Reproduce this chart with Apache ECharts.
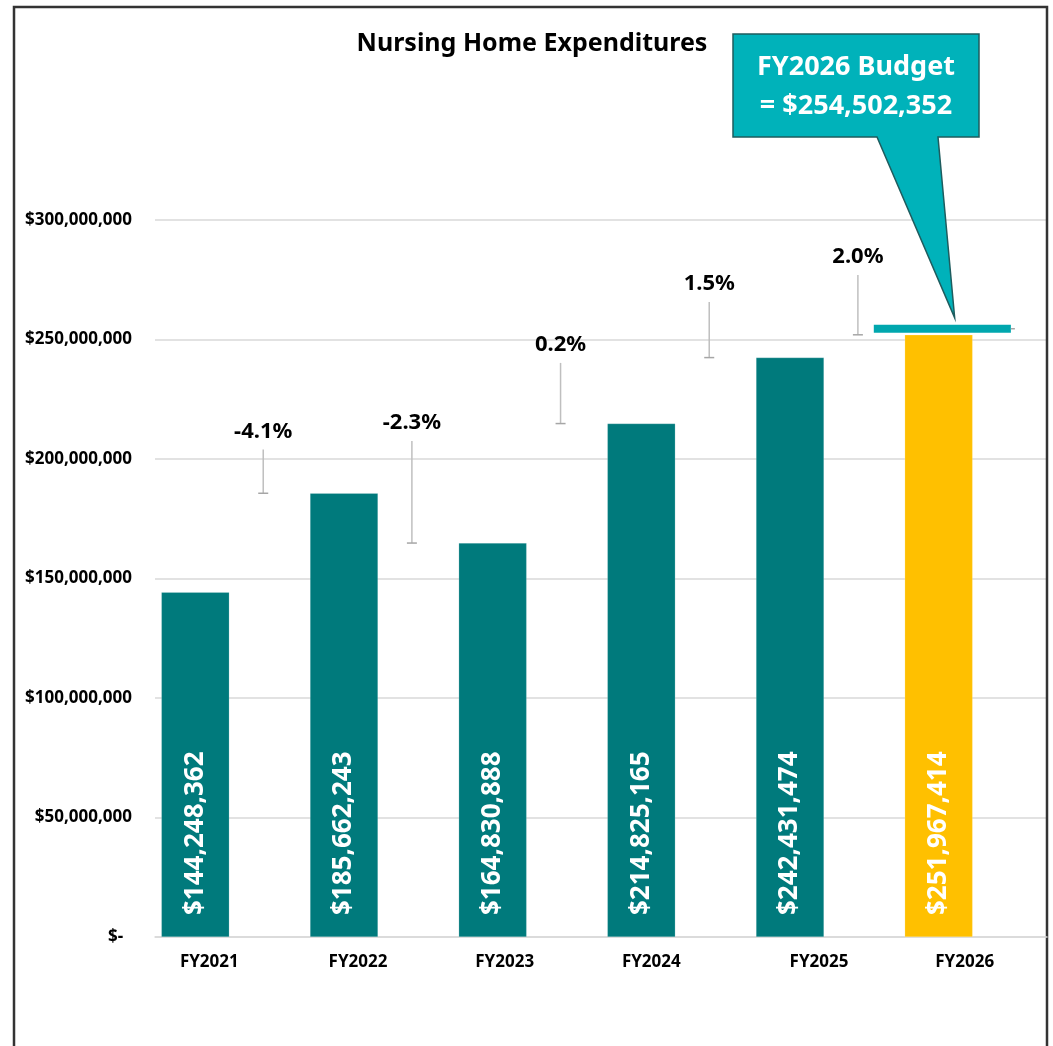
<!DOCTYPE html>
<html>
<head>
<meta charset="utf-8">
<title>Nursing Home Expenditures</title>
<script src="https://cdn.jsdelivr.net/npm/echarts@6/dist/echarts.min.js"></script>
<style>
  html, body { margin: 0; padding: 0; background: #fff; }
  #chart { width: 1053px; height: 1046px; }
</style>
</head>
<body>
<div id="chart"></div>
<script>
var years = ['FY2021', 'FY2022', 'FY2023', 'FY2024', 'FY2025', 'FY2026'];
var spending = [144248362, 185662243, 164830888, 214825165, 242431474, 251967414];

// growth notes sit between two years: whisker runs from the next year's bar up to changeHigh
var changeLabels = ['-4.1%', '-2.3%', '0.2%', '1.5%', '2.0%'];
var changeLow = [185662243, 164830888, 214825165, 242431474, 251967414];
var changeHigh = [204000000, 207500000, 240200000, 265700000, 277000000];

var budget = 254502352;
var budgetLines = ['FY2026 Budget', '= $254,502,352'];

// x label nudges (px) so the year names sit where the original puts them
var labelShift = [-20, -20, -22, -24, -5, -8];

var FONT = '"Noto Sans", "Open Sans", sans-serif';
var TEAL = '#007A7C';
var GOLD = '#FFC000';

function money(v) {
    return '$' + v.toLocaleString('en-US');
}

var chart = echarts.init(document.getElementById('chart'));

var barData = spending.map(function (v, i) {
    if (i === spending.length - 1) {
        return { value: v, itemStyle: { color: GOLD } };
    }
    return v;
});

var changeData = changeLabels.map(function (t, i) {
    return [i, changeLow[i], changeHigh[i]];
});

var rich = {};
labelShift.forEach(function (s, i) {
    rich['s' + i] = {
        fontFamily: FONT, fontWeight: 'bold', fontSize: 17, color: '#000',
        padding: s < 0 ? [0, -2 * s, 0, 0] : [0, 0, 0, 2 * s]
    };
});

chart.setOption({
    animation: false,
    textStyle: { fontFamily: FONT },
    grid: { left: 155, right: 6, top: 220, bottom: 109, containLabel: false },
    xAxis: {
        type: 'category',
        data: years,
        axisLine: { lineStyle: { color: '#D9D9D9', width: 1.5 } },
        axisTick: { show: false },
        axisLabel: {
            margin: 17,
            formatter: function (v, i) { return '{s' + i + '|' + v + '}'; },
            rich: rich
        }
    },
    yAxis: {
        type: 'value',
        min: 0,
        max: 300000000,
        interval: 50000000,
        axisLine: { show: false },
        axisTick: { show: false },
        splitLine: { lineStyle: { color: '#D9D9D9', width: 1.5 } },
        axisLabel: {
            margin: 23,
            color: '#000',
            fontWeight: 'bold',
            fontSize: 17,
            fontFamily: FONT,
            formatter: function (v) { return v === 0 ? '$-  ' : money(v); }
        }
    },
    series: [
        {
            name: 'Expenditures',
            type: 'bar',
            barWidth: 68,
            barGap: '0%',
            data: barData,
            itemStyle: { color: TEAL, borderColor: 'rgba(255,255,255,0.35)', borderWidth: 0.5 },
            label: {
                show: true,
                position: 'insideBottom',
                rotate: 90,
                align: 'left',
                verticalAlign: 'middle',
                distance: 22,
                color: '#fff',
                fontSize: 26,
                fontWeight: 'bold',
                fontFamily: FONT,
                formatter: function (p) { return money(p.value); }
            },
            z: 3
        },
        {
            // placeholder that keeps the bars left of centre, as in the source workbook
            name: 'spacer',
            type: 'bar',
            barWidth: 68,
            barGap: '0%',
            silent: true,
            data: changeLow.concat(['-']),
            itemStyle: { color: 'rgba(0,0,0,0)' }
        },
        {
            name: 'Change',
            type: 'custom',
            clip: false,
            encode: { x: 0, y: [1, 2] },
            data: changeData,
            renderItem: function (params, api) {
                var band = api.size([1, 0])[0];
                var lo = api.coord([api.value(0), api.value(1)]);
                var hi = api.coord([api.value(0), api.value(2)]);
                var x = lo[0] + band * 0.228;
                return {
                    type: 'group',
                    children: [
                        { type: 'line', shape: { x1: x, y1: lo[1], x2: x, y2: hi[1] },
                          style: { stroke: '#BFBFBF', lineWidth: 1.5 } },
                        { type: 'line', shape: { x1: x - 5, y1: lo[1], x2: x + 5, y2: lo[1] },
                          style: { stroke: '#A6A6A6', lineWidth: 1.5 } },
                        { type: 'text', x: x, y: hi[1] - 7,
                          style: { text: changeLabels[params.dataIndex], fill: '#000',
                                   font: 'bold 22px ' + FONT, align: 'center', verticalAlign: 'bottom' } }
                    ]
                };
            },
            z: 4
        },
        {
            name: 'Budget',
            type: 'custom',
            clip: false,
            encode: { x: 0, y: 1 },
            data: [[years.length - 1, budget]],
            renderItem: function (params, api) {
                var band = api.size([1, 0])[0];
                var c = api.coord([api.value(0), api.value(1)]);
                var x0 = c[0] - band * 0.665;
                var x1 = c[0] + band * 0.257;
                return {
                    type: 'group',
                    children: [
                        { type: 'rect', shape: { x: x0, y: c[1] - 4, width: x1 - x0, height: 8 },
                          style: { fill: '#00A7AE' } },
                        { type: 'line', shape: { x1: x1, y1: c[1], x2: x1 + 4, y2: c[1] },
                          style: { stroke: '#A6A6A6', lineWidth: 1.5 } }
                    ]
                };
            },
            z: 5
        }
    ]
});

// callout tip points at the budget line
var tip = chart.convertToPixel({ gridIndex: 0 }, [years.length - 1, budget]);
var tipX = tip[0] - 18;
var tipY = tip[1] - 11;

chart.setOption({
    graphic: [
        {
            type: 'rect',
            shape: { x: 14, y: 7, width: 1033, height: 1070 },
            style: { fill: 'none', stroke: '#333', lineWidth: 2.5 },
            silent: true
        },
        {
            type: 'text',
            x: 532, y: 44,
            style: { text: 'Nursing Home Expenditures', fill: '#000',
                     font: 'bold 25px ' + FONT, align: 'center', verticalAlign: 'middle' }
        },
        {
            type: 'polygon',
            shape: { points: [[733, 34], [979, 34], [979, 137], [938, 137], [tipX, tipY], [877, 137], [733, 137]] },
            style: { fill: '#00B2BA', stroke: '#1E5C5E', lineWidth: 1.5 },
            z: 10
        },
        {
            type: 'text',
            x: 856, y: 67, z: 11,
            style: { text: budgetLines[0], fill: '#fff',
                     font: 'bold 27px ' + FONT, align: 'center', verticalAlign: 'middle' }
        },
        {
            type: 'text',
            x: 856, y: 106, z: 11,
            style: { text: budgetLines[1], fill: '#fff',
                     font: 'bold 27px ' + FONT, align: 'center', verticalAlign: 'middle' }
        }
    ]
});
</script>
</body>
</html>
